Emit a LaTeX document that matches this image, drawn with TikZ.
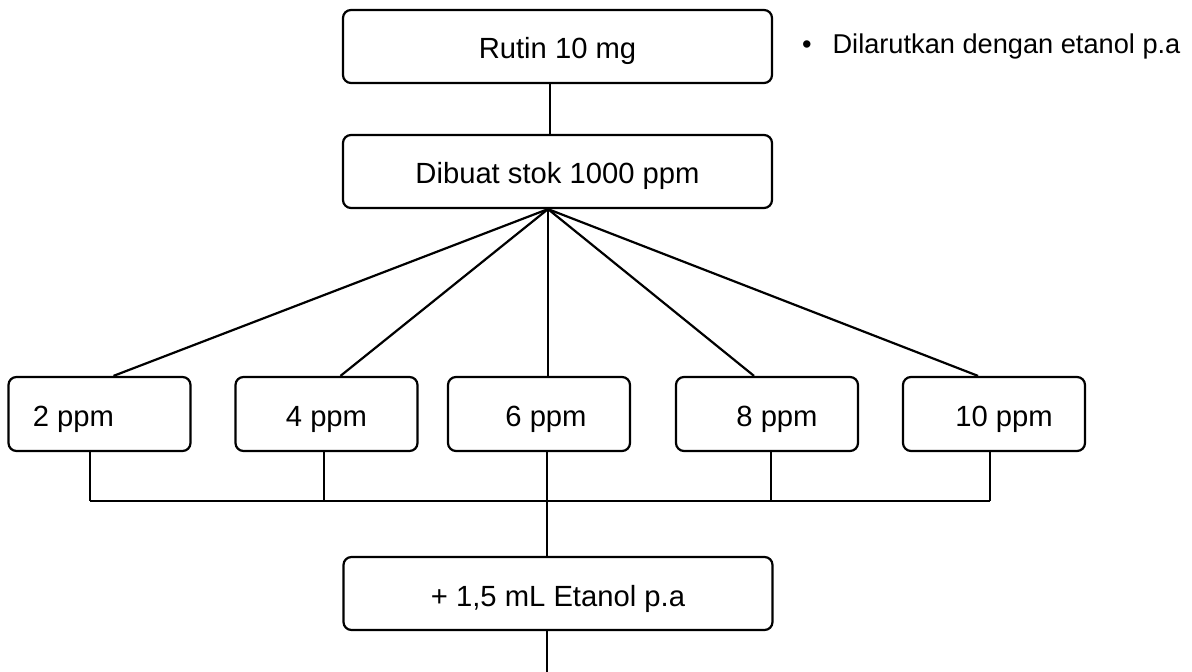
\documentclass[tikz,border=0pt]{standalone}
\usepackage{fontspec}
\setmainfont{Liberation Sans}
\usetikzlibrary{positioning,calc}

\begin{document}
\begin{tikzpicture}[
    x=0.5pt, y=-0.5pt,
    flowbox/.style={rectangle, draw=black, line width=1.1pt, rounded corners=4pt,
        minimum width=214.5pt, minimum height=36.5pt,
        text height=12.5pt, text depth=0pt,
        font=\fontsize{14.6pt}{17pt}\selectfont},
    ppmbox/.style={flowbox, minimum width=91pt, minimum height=37pt},
    conn/.style={line width=1.1pt, black}
]
    \useasboundingbox (0,0) rectangle (1192,672);

    % main column
    \node[flowbox] (rutin) at (557.5,46.5) {Rutin 10 mg};
    \node[flowbox] (stok) at (557.5,171.5) {Dibuat stok 1000 ppm};
    \node[font=\fontsize{13.6pt}{16pt}\selectfont, anchor=west] (note) at (795,46)
        {\textbullet\hspace{10.5pt}Dilarutkan dengan etanol p.a};

    % concentrations
    \node[ppmbox] (c2) at (99.5,414) {2 ppm\hspace{26pt}\null};
    \node[ppmbox] (c4) at (326.5,414) {4 ppm};
    \node[ppmbox] (c6) at (539,414) {\hspace{7pt}6 ppm};
    \node[ppmbox] (c8) at (767,414) {\hspace{10pt}8 ppm};
    \node[ppmbox] (c10) at (994,414) {\hspace{10pt}10 ppm};

    \node[flowbox] (etanol) at (558,593.5) {+ 1,5 mL Etanol p.a};

    % collecting line
    \coordinate (b2) at (90,501);
    \coordinate (b4) at (324,501);
    \coordinate (b6) at (547,501);
    \coordinate (b8) at (771,501);
    \coordinate (b10) at (990,501);
    \coordinate (hub) at ([xshift=-4.75pt]stok.south);
    \coordinate (tail) at (547,672);

    \draw[conn] ([xshift=-3.75pt]rutin.south) -- ([xshift=-3.75pt]stok.north);

    \draw[conn] (hub) -- ([xshift=7pt]c2.north);
    \draw[conn] (hub) -- ([xshift=7pt]c4.north);
    \draw[conn] (hub) -- (c6.north -| hub);
    \draw[conn] (hub) -- ([xshift=-6.5pt]c8.north);
    \draw[conn] (hub) -- ([xshift=-8pt]c10.north);

    \draw[conn] (c2.south -| b2) -- (b2);
    \draw[conn] (c4.south -| b4) -- (b4);
    \draw[conn] (c6.south -| b6) -- (b6);
    \draw[conn] (c8.south -| b8) -- (b8);
    \draw[conn] (c10.south -| b10) -- (b10);
    \draw[conn] (b2) -- (b10);

    \draw[conn] (b6) -- (etanol.north -| b6);
    \draw[conn] (etanol.south -| tail) -- (tail);
\end{tikzpicture}
\end{document}
